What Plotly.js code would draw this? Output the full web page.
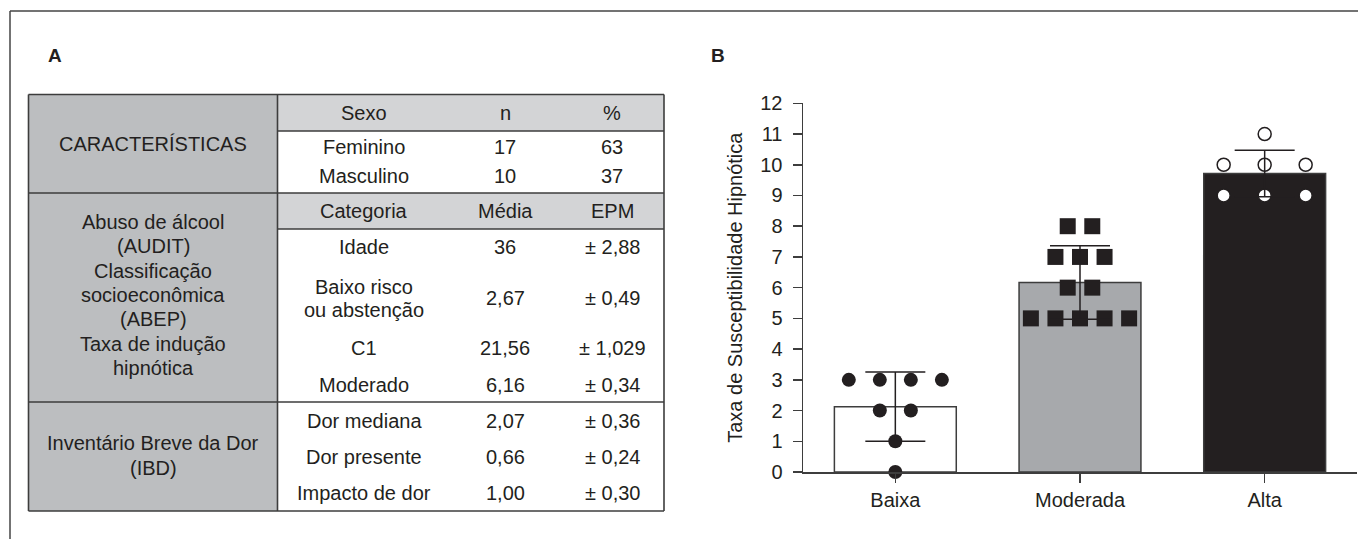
<!DOCTYPE html>
<html>
<head>
<meta charset="utf-8">
<script src="https://cdn.plot.ly/plotly-3.0.1.min.js"></script>
<style>html,body{margin:0;padding:0;background:#fff;}#chart{width:1358px;height:539px;}</style>
</head>
<body>
<div id="chart"></div>
<script>
// ---------- DATA: panel A (table) ----------
const sectionLabels = [
  ["CARACTERÍSTICAS"],
  ["Abuso de álcool", "(AUDIT)", "Classificação", "socioeconômica", "(ABEP)", "Taxa de indução", "hipnótica"],
  ["Inventário Breve da Dor", "(IBD)"]
];
const headerSexo = ["Sexo", "n", "%"];
const sexoCategorias = ["Feminino", "Masculino"];
const sexoN = ["17", "10"];
const sexoPct = ["63", "37"];
const headerCategoria = ["Categoria", "Média", "EPM"];
const categorias = [["Idade"], ["Baixo risco", "ou abstenção"], ["C1"], ["Moderado"], ["Dor mediana"], ["Dor presente"], ["Impacto de dor"]];
const medias = ["36", "2,67", "21,56", "6,16", "2,07", "0,66", "1,00"];
const epm = ["± 2,88", "± 0,49", "± 1,029", "± 0,34", "± 0,36", "± 0,24", "± 0,30"];

// ---------- DATA: panel B (chart) ----------
const groups = ["Baixa", "Moderada", "Alta"];
const baixa = [3, 3, 3, 3, 2, 2, 1, 0];
const moderada = [8, 8, 7, 7, 7, 6, 6, 5, 5, 5, 5, 5];
const alta = [11, 10, 10, 10, 9, 9, 9];
const yAxisTitle = "Taxa de Susceptibilidade Hipnótica";
const panelLabels = ["A", "B"];

// ---------- helpers ----------
const W = 1358, H = 539;
const px = x => x / W;
const py = y => 1 - y / H;
const INK = "#231f20";
const LINE = "#3d3d3d";
const FONT = "Liberation Sans, Arial, Helvetica, sans-serif";
const FS = 20;

const shapes = [];
const annotations = [];
function rect(x0, y0, x1, y1, fill) {
  shapes.push({type: "rect", xref: "paper", yref: "paper", x0: px(x0), x1: px(x1), y0: py(y1), y1: py(y0),
    fillcolor: fill, line: {width: 0}, layer: "below"});
}
function line(x0, y0, x1, y1, w, c) {
  shapes.push({type: "line", xref: "paper", yref: "paper", x0: px(x0), x1: px(x1), y0: py(y0), y1: py(y1),
    line: {color: c || LINE, width: w || 1.6}});
}
function text(t, x, y, opts) {
  opts = opts || {};
  annotations.push({text: t, xref: "paper", yref: "paper", x: px(x), y: py(y), showarrow: false,
    xanchor: opts.xanchor || "center", yanchor: "middle",
    font: {family: FONT, size: opts.size || FS, color: INK, weight: opts.weight || "normal"}});
}

// ---------- outer frame ----------
line(10, 11, W, 11, 1.5, "#444");
line(10, 11, 10, H, 1.5, "#444");

// ---------- table geometry ----------
const TL = 28.5, TR = 664, TT = 94.5, TB = 511, TC = 277.5;
const rowY = [131, 193, 229, 402];
const colX = [364, 505, 612];
const LEFT_FILL = "#bcbec0", HEAD_FILL = "#d3d4d6";

rect(TL, TT, TC, TB, LEFT_FILL);
rect(TC, TT, TR, rowY[0], HEAD_FILL);
rect(TC, rowY[1], TR, rowY[2], HEAD_FILL);
// borders
line(TL, TT, TR, TT);
line(TL, TB, TR, TB);
line(TL, TT, TL, TB);
line(TR, TT, TR, TB);
line(TC, TT, TC, TB);
line(TC, rowY[0], TR, rowY[0]);
line(TL, rowY[1], TR, rowY[1]);
line(TC, rowY[2], TR, rowY[2]);
line(TL, rowY[3], TR, rowY[3]);

// left column labels
const leftCx = (TL + TC) / 2;
text(sectionLabels[0][0], leftCx, 144);
const sec2Top = 222, sec2Step = 24.3;
sectionLabels[1].forEach((t, i) => text(t, leftCx, sec2Top + i * sec2Step));
text(sectionLabels[2][0], leftCx, 443);
text(sectionLabels[2][1], leftCx, 468);

// header rows
headerSexo.forEach((t, i) => text(t, colX[i], 112.5));
headerCategoria.forEach((t, i) => text(t, colX[i], 211));
// sexo rows
const sexoY = [147, 176];
sexoCategorias.forEach((t, i) => {
  text(t, colX[0], sexoY[i]);
  text(sexoN[i], colX[1], sexoY[i]);
  text(sexoPct[i], colX[2], sexoY[i]);
});
// category rows
const catY = [247, 298, 348, 385, 421, 457, 493];
categorias.forEach((lines, i) => {
  if (lines.length === 1) text(lines[0], colX[0], catY[i]);
  else { text(lines[0], colX[0], catY[i] - 11.5); text(lines[1], colX[0], catY[i] + 11.5); }
  text(medias[i], colX[1], catY[i]);
  text(epm[i], colX[2], catY[i]);
});

// panel labels
text(panelLabels[0], 55, 55, {weight: "bold", size: 19});
text(panelLabels[1], 718, 55, {weight: "bold", size: 19});

// ---------- chart traces ----------
const series = [baixa, moderada, alta];
const mean = a => a.reduce((s, v) => s + v, 0) / a.length;
const sd = a => { const m = mean(a); return Math.sqrt(a.reduce((s, v) => s + (v - m) * (v - m), 0) / (a.length - 1)); };
const means = series.map(mean);
const sds = series.map(sd);
const xIdx = groups.map((g, i) => i);

const barFill = ["#ffffff", "#a7a9ac", INK];
const spread = [0.168, 0.133, 0.222];
const markerStyle = [
  {symbol: "circle", size: 14, color: INK, line: {width: 0}},
  {symbol: "square", size: 16, color: INK, line: {width: 0}},
  {symbol: "circle", size: 13, color: "#ffffff", line: {width: 1.5, color: INK}}
];

const traces = [{
  type: "bar", x: xIdx, y: means, width: 0.66,
  marker: {color: barFill, line: {color: LINE, width: 1.5}},
  hoverinfo: "skip", showlegend: false
}];

series.forEach((arr, g) => {
  const xs = [], ys = [];
  const counts = {}, seen = {};
  arr.forEach(v => counts[v] = (counts[v] || 0) + 1);
  arr.forEach(v => {
    const k = counts[v]; const i = seen[v] || 0; seen[v] = i + 1;
    xs.push(g + (i - (k - 1) / 2) * spread[g]);
    ys.push(v);
  });
  traces.push({type: "scatter", mode: "markers", x: xs, y: ys, marker: markerStyle[g],
    cliponaxis: false, hoverinfo: "skip", showlegend: false});
});

traces.push({
  type: "scatter", mode: "markers", x: xIdx, y: means,
  marker: {size: 1, opacity: 0},
  error_y: {type: "data", array: sds, visible: true, color: INK, thickness: 1.5, width: 30},
  cliponaxis: false, hoverinfo: "skip", showlegend: false
});

const layout = {
  width: W, height: H,
  margin: {l: 0, r: 0, t: 0, b: 0},
  paper_bgcolor: "#ffffff", plot_bgcolor: "rgba(0,0,0,0)",
  font: {family: FONT, color: INK, size: FS},
  showlegend: false,
  bargap: 0,
  xaxis: {
    domain: [px(803), px(1357)], range: [-0.5, 2.5],
    tickmode: "array", tickvals: xIdx, ticktext: groups,
    showline: true, linecolor: LINE, linewidth: 1.5,
    ticks: "outside", ticklen: 9, tickwidth: 1.5, tickcolor: LINE,
    tickfont: {family: FONT, size: FS, color: INK},
    showgrid: false, zeroline: false, fixedrange: true
  },
  yaxis: {
    domain: [py(472), py(103.3)], range: [0, 12],
    tickmode: "linear", tick0: 0, dtick: 1,
    showline: true, linecolor: LINE, linewidth: 1.5,
    ticks: "outside", ticklen: 9, tickwidth: 1.5, tickcolor: LINE,
    ticklabelstandoff: 6,
    tickfont: {family: FONT, size: FS, color: INK},
    title: {text: yAxisTitle, font: {family: FONT, size: FS, color: INK}, standoff: 12},
    showgrid: false, zeroline: false, fixedrange: true
  },
  shapes: shapes,
  annotations: annotations
};

Plotly.newPlot("chart", traces, layout, {displayModeBar: false, staticPlot: true});
</script>
</body>
</html>
